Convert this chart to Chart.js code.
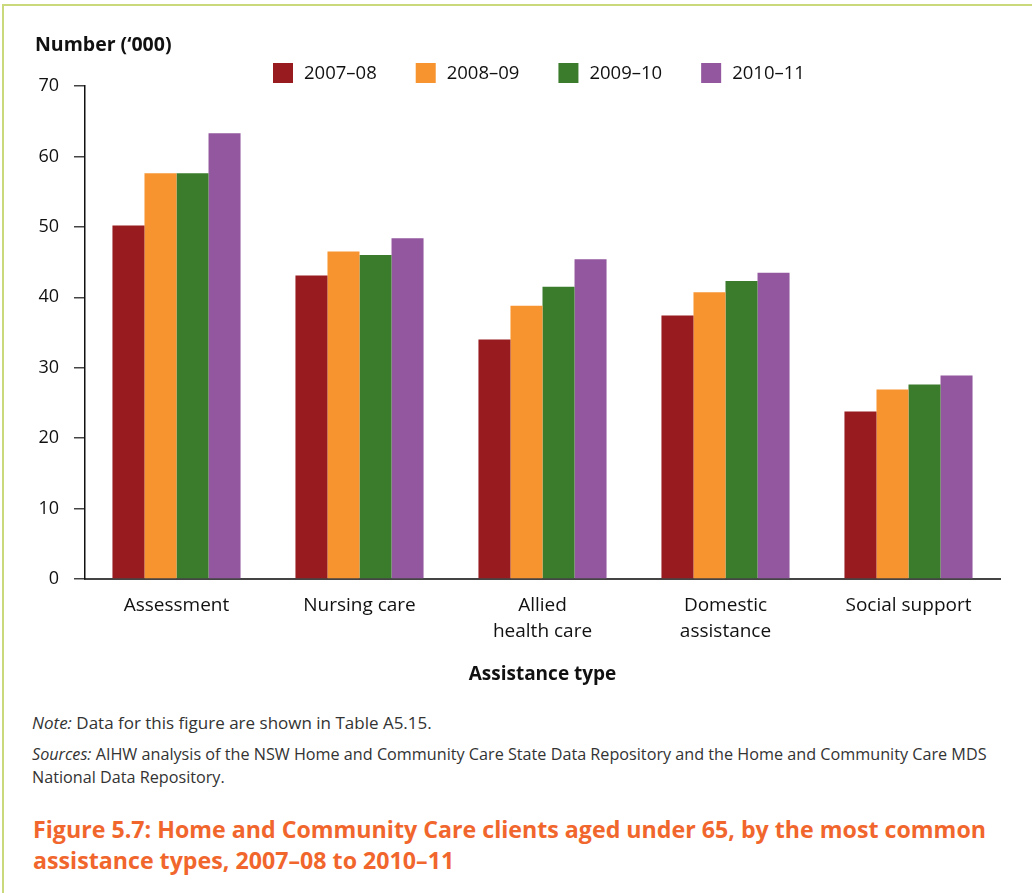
<!DOCTYPE html>
<html>
<head>
<meta charset="utf-8">
<script src="https://cdn.jsdelivr.net/npm/chart.js@4"></script>
<style>
  html, body { margin: 0; padding: 0; background: #fff; }
  body { width: 1032px; height: 893px; position: relative; overflow: hidden; font-family: "Open Sans", sans-serif; }
  #frame { position: absolute; left: 2px; top: 4px; width: 1040px; height: 900px;
           border-top: 2px solid #c9d97c; border-left: 2px solid #c9d97c; }
  #chartBox { position: absolute; left: 0; top: 0; width: 1032px; height: 700px; }
  .note { position: absolute; left: 32px; color: #333; font-size: 16.2px; line-height: 23px; white-space: nowrap; }
  .caption { position: absolute; left: 33px; top: 814px; color: #f1662c; font-weight: 700;
             font-size: 23.2px; line-height: 31px; white-space: nowrap; }
</style>
</head>
<body>
<div id="frame"></div>
<div id="chartBox"><canvas id="c" width="1032" height="700"></canvas></div>
<div class="note" style="top:711px; font-size:17px"><i>Note:</i> Data for this figure are shown in Table A5.15.</div>
<div class="note" style="top:743px"><i>Sources:</i> AIHW analysis of the NSW Home and Community Care State Data Repository and the Home and Community Care MDS<br>National Data Repository.</div>
<div class="caption">Figure 5.7: Home and Community Care clients aged under 65, by the most common<br>assistance types, 2007–08 to 2010–11</div>

<script>
// Assistance types (multi-line labels are arrays)
const categories = ['Assessment', 'Nursing care', ['Allied', 'health care'], ['Domestic', 'assistance'], 'Social support'];

// Financial years shown in the legend
const seriesLabels = ['2007–08', '2008–09', '2009–10', '2010–11'];

// Clients aged under 65, number ('000)
const clients2007_08 = [50.2, 43.1, 34.0, 37.4, 23.8];
const clients2008_09 = [57.6, 46.5, 38.8, 40.7, 26.9];
const clients2009_10 = [57.6, 46.0, 41.5, 42.3, 27.6];
const clients2010_11 = [63.3, 48.4, 45.4, 43.5, 28.9];

// Value axis
const yMin = 0;
const yMax = 70;
const yStep = 10;

const seriesColours = ['#971b1f', '#f79430', '#3a7b2c', '#92579e'];
const seriesValues = [clients2007_08, clients2008_09, clients2009_10, clients2010_11];

const FONT = '"Open Sans", sans-serif';

// Legend row across the top and the value-axis heading
const headerPlugin = {
  id: 'headerPlugin',
  afterDraw(chart) {
    const ctx = chart.ctx;
    ctx.save();
    ctx.textBaseline = 'middle';
    ctx.textAlign = 'left';
    ctx.fillStyle = '#111';
    ctx.font = 'bold 19.5px ' + FONT;
    ctx.fillText('Number (\u2018000)', 35, 45);

    ctx.font = '18.5px ' + FONT;
    let x = 273;
    const y = 73;
    chart.data.datasets.forEach(ds => {
      ctx.fillStyle = ds.backgroundColor;
      ctx.fillRect(x, y - 10, 20, 20);
      ctx.fillStyle = '#111';
      ctx.fillText(ds.label, x + 31, y + 1);
      x += 31 + ctx.measureText(ds.label).width + 39;
    });
    ctx.restore();
  }
};

new Chart(document.getElementById('c'), {
  type: 'bar',
  data: {
    labels: categories,
    datasets: seriesLabels.map((label, i) => ({
      label,
      data: seriesValues[i],
      backgroundColor: seriesColours[i],
      borderWidth: 0,
      categoryPercentage: 0.7,
      barPercentage: 1.0
    }))
  },
  options: {
    responsive: false,
    animation: false,
    devicePixelRatio: 1,
    layout: { padding: { top: 86, left: 0, right: 32, bottom: 0 } },
    plugins: { legend: { display: false }, tooltip: { enabled: false } },
    scales: {
      x: {
        grid: { display: false, drawTicks: false },
        border: { display: true, color: '#444', width: 2 },
        ticks: { padding: 14, color: '#111', font: { family: FONT, size: 19, lineHeight: 1.35 }, maxRotation: 0 },
        title: { display: true, text: 'Assistance type', color: '#111',
                 font: { family: FONT, size: 19, weight: 'bold' }, padding: { top: 0, bottom: 14 } },
        afterFit(scale) { scale.height = 121; }
      },
      y: {
        min: yMin,
        max: yMax,
        grid: { display: true, drawOnChartArea: false, drawTicks: true, tickLength: 11, color: '#444', lineWidth: 1.5 },
        border: { display: true, color: '#111', width: 1.5 },
        ticks: { stepSize: yStep, padding: 15, color: '#111', font: { family: FONT, size: 18 } },
        afterFit(scale) { scale.width = 85; }
      }
    }
  },
  plugins: [headerPlugin]
});
</script>
</body>
</html>
